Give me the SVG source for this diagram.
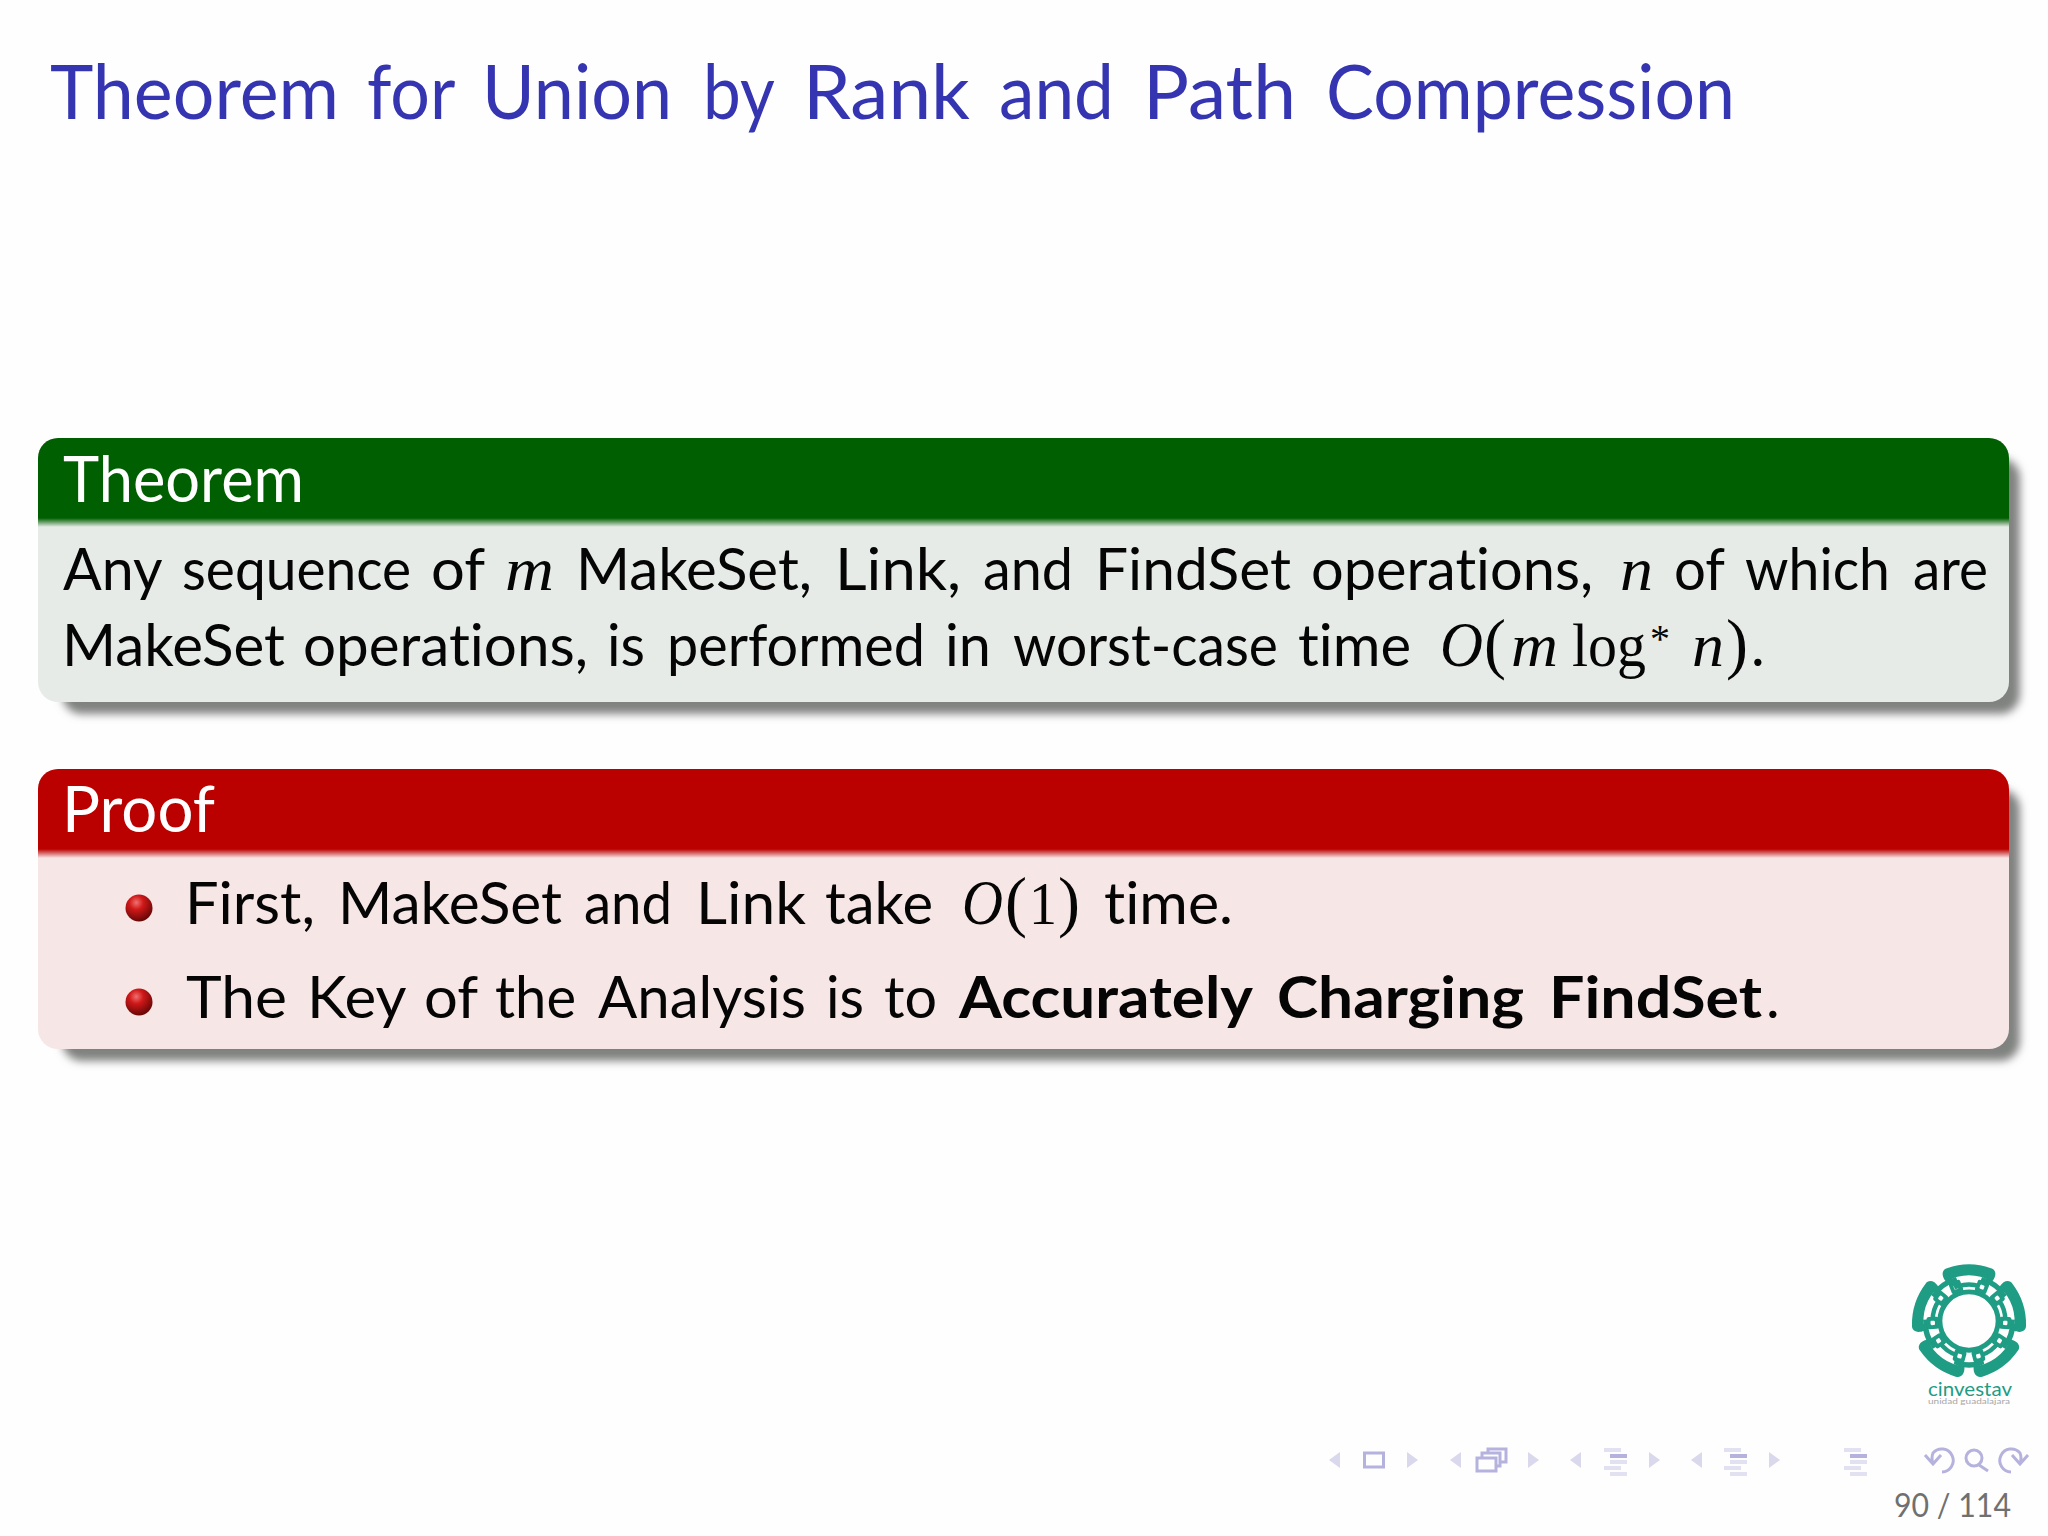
<svg xmlns="http://www.w3.org/2000/svg" xmlns:xlink="http://www.w3.org/1999/xlink" width="2048" height="1536" viewBox="0 0 2048 1536">
<style>
text{font-variant-ligatures:none}
.t{font-family:"Lato","Noto Sans",sans-serif}
.title{font-size:76px;fill:#3535b2}
.hd{font-size:63px;fill:#fff}
.b{font-size:58px;fill:#050505}
.bb{font-weight:700}
.m{font-family:"Liberation Serif",serif;font-size:62px;fill:#050505;font-weight:400}
.i{font-style:italic}
.o{font-size:64px}
.p{font-size:68px}
.s{font-size:40px}
.nav{fill:#d9d8ec}
.navd{fill:none;stroke:#b5b2dd;stroke-width:3}
.l1{fill:#e2e1f1}.l2{fill:#b5b2dd}
.logo{fill:#1f9c84}
.ring{fill:none;stroke:#1f9c84}
.hole{fill:#fefefe}
</style>
<defs>
<filter id="sh" x="-5%" y="-20%" width="110%" height="140%"><feGaussianBlur stdDeviation="4.500"/></filter>
<radialGradient id="ball" cx="0.4" cy="0.3" r="0.75"><stop offset="0" stop-color="#f07070"/><stop offset="0.35" stop-color="#d01818"/><stop offset="1" stop-color="#5a0505"/></radialGradient>
<linearGradient id="gfade" x1="0" y1="0" x2="0" y2="1"><stop offset="0" stop-color="#005f00"/><stop offset="1" stop-color="#e6ebe8"/></linearGradient>
<linearGradient id="rfade" x1="0" y1="0" x2="0" y2="1"><stop offset="0" stop-color="#bb0000"/><stop offset="1" stop-color="#f7e6e6"/></linearGradient>
<g id="tl"><path d="M0 -8V8L-11 0Z"/></g>
<g id="tr"><path d="M0 -8V8L11 0Z"/></g>
<g id="lines">
<rect class="l1" x="0" y="0" width="17" height="4"/><rect class="l2" x="6" y="6" width="17" height="4"/><rect class="l1" x="6" y="12" width="17" height="4"/><rect class="l1" x="0" y="18" width="17" height="4"/><rect class="l1" x="6" y="24" width="17" height="4"/>
</g>
<g id="pod">
<path d="M-21 -36C-26 -42 -24 -47 -20 -48Q0 -55 20 -48C24 -47 26 -42 21 -36Q0 -47 -21 -36Z"/>
<path class="ring" stroke-width="4" d="M-10 -31.500Q0 -35 10 -31.500"/>
<path class="ring" stroke-width="5" transform="rotate(36)" d="M-10 -38.500Q0 -41.500 10 -38.500M-11.500 -40L-9 -30M11.500 -40L9 -30"/>
<g transform="rotate(-21)"><rect x="-5.500" y="-38.500" width="11" height="11" rx="2"/><rect class="hole" x="-2" y="-35" width="4" height="4" rx="1"/></g>
<g transform="rotate(21)"><rect x="-5.500" y="-38.500" width="11" height="11" rx="2"/><rect class="hole" x="-2" y="-35" width="4" height="4" rx="1"/></g>
</g>
</defs>
<rect width="2048" height="1536" fill="#fefefe"/>
<text class="t title" y="119"><tspan x="50" textLength="289" lengthAdjust="spacingAndGlyphs">Theorem</tspan> <tspan x="367" textLength="87" lengthAdjust="spacingAndGlyphs">for</tspan> <tspan x="482" textLength="190" lengthAdjust="spacingAndGlyphs">Union</tspan> <tspan x="703" textLength="70" lengthAdjust="spacingAndGlyphs">by</tspan> <tspan x="803" textLength="167" lengthAdjust="spacingAndGlyphs">Rank</tspan> <tspan x="999" textLength="115" lengthAdjust="spacingAndGlyphs">and</tspan> <tspan x="1143" textLength="153" lengthAdjust="spacingAndGlyphs">Path</tspan> <tspan x="1326" textLength="409" lengthAdjust="spacingAndGlyphs">Compression</tspan></text>

<g id="theorem">
<rect x="62" y="458" width="1958" height="256" rx="20" fill="#808280" filter="url(#sh)"/>
<rect x="38" y="438" width="1971" height="264" rx="20" fill="#e6ebe8"/>
<path d="M38 518V458A20 20 0 0 1 58 438H1989A20 20 0 0 1 2009 458V518Z" fill="#005f00"/>
<rect x="38" y="518" width="1971" height="9" fill="url(#gfade)"/>
<text class="t hd" y="502" x="63" textLength="241" lengthAdjust="spacingAndGlyphs">Theorem</text>
<text class="t b" y="590"><tspan x="63" textLength="98" lengthAdjust="spacingAndGlyphs">Any</tspan> <tspan x="182" textLength="229" lengthAdjust="spacingAndGlyphs">sequence</tspan> <tspan x="431" textLength="53" lengthAdjust="spacingAndGlyphs">of</tspan> <tspan class="m i" x="505" textLength="49" lengthAdjust="spacingAndGlyphs">m</tspan> <tspan x="576" textLength="236" lengthAdjust="spacingAndGlyphs">MakeSet,</tspan> <tspan x="835" textLength="126" lengthAdjust="spacingAndGlyphs">Link,</tspan> <tspan x="983" textLength="90" lengthAdjust="spacingAndGlyphs">and</tspan> <tspan x="1095" textLength="196" lengthAdjust="spacingAndGlyphs">FindSet</tspan> <tspan x="1311" textLength="282" lengthAdjust="spacingAndGlyphs">operations,</tspan> <tspan class="m i" x="1620" textLength="33" lengthAdjust="spacingAndGlyphs">n</tspan> <tspan x="1674" textLength="50" lengthAdjust="spacingAndGlyphs">of</tspan> <tspan x="1745" textLength="145" lengthAdjust="spacingAndGlyphs">which</tspan> <tspan x="1913" textLength="75" lengthAdjust="spacingAndGlyphs">are</tspan></text>
<text class="t b" y="666"><tspan x="62" textLength="223" lengthAdjust="spacingAndGlyphs">MakeSet</tspan> <tspan x="303" textLength="285" lengthAdjust="spacingAndGlyphs">operations,</tspan> <tspan x="607" textLength="38" lengthAdjust="spacingAndGlyphs">is</tspan> <tspan x="667" textLength="258" lengthAdjust="spacingAndGlyphs">performed</tspan> <tspan x="945" textLength="46" lengthAdjust="spacingAndGlyphs">in</tspan> <tspan x="1013" textLength="265" lengthAdjust="spacingAndGlyphs">worst-case</tspan> <tspan x="1298" textLength="113" lengthAdjust="spacingAndGlyphs">time</tspan> <tspan class="m i o" x="1440" textLength="43" lengthAdjust="spacingAndGlyphs">O</tspan><tspan class="m p" x="1484" textLength="22" lengthAdjust="spacingAndGlyphs">(</tspan><tspan class="m i" x="1511" textLength="47" lengthAdjust="spacingAndGlyphs">m</tspan> <tspan class="m" x="1572" textLength="74" lengthAdjust="spacingAndGlyphs">log</tspan><tspan class="m s" x="1650" y="652">*</tspan> <tspan class="m i" x="1692" y="666" textLength="32" lengthAdjust="spacingAndGlyphs">n</tspan><tspan class="m p" x="1726" textLength="22" lengthAdjust="spacingAndGlyphs">)</tspan><tspan x="1751">.</tspan></text>
</g>

<g id="proof">
<rect x="62" y="789" width="1958" height="272" rx="20" fill="#808280" filter="url(#sh)"/>
<rect x="38" y="769" width="1971" height="280" rx="20" fill="#f7e6e6"/>
<path d="M38 849V789A20 20 0 0 1 58 769H1989A20 20 0 0 1 2009 789V849Z" fill="#bb0000"/>
<rect x="38" y="849" width="1971" height="9" fill="url(#rfade)"/>
<text class="t hd" y="832" x="62" textLength="153" lengthAdjust="spacingAndGlyphs">Proof</text>
<circle cx="139" cy="908" r="13.5" fill="url(#ball)"/>
<circle cx="139" cy="1002" r="13.5" fill="url(#ball)"/>
<text class="t b" y="924"><tspan x="185" textLength="130" lengthAdjust="spacingAndGlyphs">First,</tspan> <tspan x="338" textLength="224" lengthAdjust="spacingAndGlyphs">MakeSet</tspan> <tspan x="584" textLength="88" lengthAdjust="spacingAndGlyphs">and</tspan> <tspan x="696" textLength="110" lengthAdjust="spacingAndGlyphs">Link</tspan> <tspan x="825" textLength="108" lengthAdjust="spacingAndGlyphs">take</tspan> <tspan class="m i o" x="962" textLength="41" lengthAdjust="spacingAndGlyphs">O</tspan><tspan class="m p" x="1005" textLength="22" lengthAdjust="spacingAndGlyphs">(</tspan><tspan class="m" x="1029" textLength="28" lengthAdjust="spacingAndGlyphs">1</tspan><tspan class="m p" x="1058" textLength="22" lengthAdjust="spacingAndGlyphs">)</tspan> <tspan x="1104" textLength="129" lengthAdjust="spacingAndGlyphs">time.</tspan></text>
<text class="t b" y="1018"><tspan x="186" textLength="101" lengthAdjust="spacingAndGlyphs">The</tspan> <tspan x="307" textLength="98" lengthAdjust="spacingAndGlyphs">Key</tspan> <tspan x="424" textLength="53" lengthAdjust="spacingAndGlyphs">of</tspan> <tspan x="495" textLength="81" lengthAdjust="spacingAndGlyphs">the</tspan> <tspan x="598" textLength="208" lengthAdjust="spacingAndGlyphs">Analysis</tspan> <tspan x="826" textLength="38" lengthAdjust="spacingAndGlyphs">is</tspan> <tspan x="884" textLength="53" lengthAdjust="spacingAndGlyphs">to</tspan> <tspan class="bb" x="959" textLength="294" lengthAdjust="spacingAndGlyphs">Accurately</tspan> <tspan class="bb" x="1277" textLength="247" lengthAdjust="spacingAndGlyphs">Charging</tspan> <tspan class="bb" x="1549" textLength="213" lengthAdjust="spacingAndGlyphs">FindSet</tspan><tspan x="1766">.</tspan></text>
</g>

<g id="logo" class="logo">
<g transform="translate(1969,1321) scale(1.1)">
<circle class="ring" r="26.500" stroke-width="4.500"/>
<use xlink:href="#pod"/><use xlink:href="#pod" transform="rotate(72)"/><use xlink:href="#pod" transform="rotate(144)"/><use xlink:href="#pod" transform="rotate(216)"/><use xlink:href="#pod" transform="rotate(288)"/>
</g>
<text class="t" x="1928" y="1396" font-size="19" textLength="84" lengthAdjust="spacingAndGlyphs">cinvestav</text>
<text class="t" x="1928" y="1404" font-size="8" textLength="82" lengthAdjust="spacingAndGlyphs" style="fill:#a8a8a8">unidad guadalajara</text>
</g>

<g id="nav">
<use class="nav" xlink:href="#tl" x="1340" y="1460"/><rect class="navd" x="1364.500" y="1453" width="19" height="14"/><use class="nav" xlink:href="#tr" x="1407" y="1460"/>
<use class="nav" xlink:href="#tl" x="1461" y="1460"/><g class="navd"><path d="M1477 1458h19v13h-19zM1482 1458v-5h18v13h-4M1488 1453v-4h18v13h-5"/></g><use class="nav" xlink:href="#tr" x="1528" y="1460"/>
<use class="nav" xlink:href="#tl" x="1581" y="1460"/><use xlink:href="#lines" x="1604" y="1448"/><use class="nav" xlink:href="#tr" x="1649" y="1460"/>
<use class="nav" xlink:href="#tl" x="1702" y="1460"/><use xlink:href="#lines" x="1724" y="1448"/><use class="nav" xlink:href="#tr" x="1769" y="1460"/>
<use xlink:href="#lines" x="1844" y="1448"/>
<path class="navd" d="M1942 1472A11.500 11.500 0 1 0 1933 1453Q1931 1458 1933 1464M1925 1455L1933 1464L1941 1455"/>
<circle class="navd" cx="1974" cy="1458" r="8"/><path class="navd" d="M1979 1465L1988 1471" stroke-width="4"/>
<path class="navd" d="M2011 1472A11.500 11.500 0 1 1 2020 1453Q2022 1458 2020 1464M2028 1455L2020 1464L2012 1455"/>
</g>
<text id="page" class="t" x="1894" y="1517" font-size="32" fill="#707070" textLength="117" lengthAdjust="spacingAndGlyphs">90 / 114</text>
</svg>
